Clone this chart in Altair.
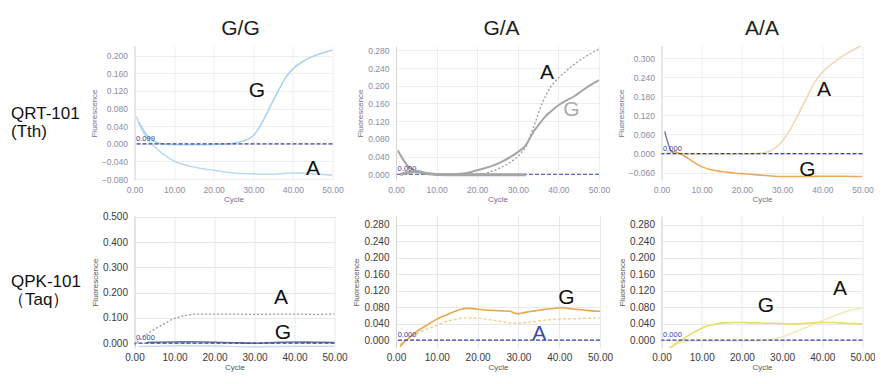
import altair as alt
import pandas as pd

FONT = "Liberation Sans"

COL_TITLES = ["G/G", "G/A", "A/A"]
ROW_LABELS = [("QRT-101", "(Tth)"), ("QPK-101", "（Taq）")]
X_TICKS = [0, 10, 20, 30, 40, 50]
THRESH = [0.0]

# ---- Panel 1: QRT-101 (Tth), G/G ----
P1_G_CYCLE = [1, 2, 3, 4, 5, 6, 8, 10, 12, 15, 18, 21, 24, 26, 28, 29, 30, 31, 32, 33, 34, 35, 36, 37, 38, 39, 40, 42, 44, 46, 48, 50]
P1_G_VALUE = [0.05, 0.035, 0.022, 0.012, 0.006, 0.002, -0.001, -0.002, -0.002, -0.002, -0.002, -0.001, 0.0, 0.003, 0.008, 0.012, 0.019, 0.03, 0.045, 0.062, 0.08, 0.097, 0.115, 0.132, 0.148, 0.16, 0.17, 0.184, 0.194, 0.202, 0.208, 0.213]
P1_A_CYCLE = [0.5, 1, 2, 3, 4, 5, 6, 8, 10, 12, 14, 17, 20, 25, 30, 34, 38, 40, 44, 47, 50]
P1_A_VALUE = [0.062, 0.05, 0.03, 0.015, 0.003, -0.006, -0.014, -0.028, -0.039, -0.046, -0.051, -0.056, -0.06, -0.066, -0.068, -0.069, -0.067, -0.066, -0.067, -0.069, -0.071]
P1_Y_DOMAIN = [-0.082, 0.222]
P1_Y_TICKS = [-0.08, -0.04, 0.0, 0.04, 0.08, 0.12, 0.16, 0.2]

# ---- Panel 2: QRT-101 (Tth), G/A ----
P2_G_CYCLE = [0.5, 1, 2, 3, 4, 5, 6, 8, 10, 12, 14, 16, 18, 20, 22, 24, 26, 28, 30, 32, 33, 34, 35, 36, 37, 38, 40, 42, 44, 46, 48, 50]
P2_G_VALUE = [0.052, 0.045, 0.03, 0.018, 0.011, 0.007, 0.004, 0.001, 0.0, 0.0, 0.0, 0.001, 0.004, 0.009, 0.014, 0.02, 0.028, 0.038, 0.05, 0.066, 0.082, 0.098, 0.11, 0.122, 0.133, 0.141, 0.156, 0.167, 0.177, 0.19, 0.202, 0.213]
P2_A_CYCLE = [0.5, 1, 2, 3, 4, 5, 6, 8, 10, 14, 18, 20, 22, 24, 26, 28, 30, 31, 32, 33, 34, 35, 36, 37, 38, 39, 40, 42, 44, 46, 48, 50]
P2_A_VALUE = [0.055, 0.045, 0.03, 0.018, 0.011, 0.007, 0.004, 0.001, 0.0, 0.0, 0.0, 0.0, 0.002, 0.008, 0.016, 0.026, 0.04, 0.05, 0.062, 0.085, 0.11, 0.135, 0.16, 0.18, 0.196, 0.208, 0.218, 0.234, 0.249, 0.262, 0.273, 0.283]
P2_BASE_CYCLE = [1, 3, 5, 8, 12, 16, 20, 24, 28, 32]
P2_BASE_VALUE = [-0.001, 0.004, 0.006, 0.001, -0.001, -0.001, -0.001, -0.001, -0.001, -0.001]
P2_Y_DOMAIN = [-0.013, 0.290]
P2_Y_TICKS = [0.0, 0.04, 0.08, 0.12, 0.16, 0.2, 0.24, 0.28]

# ---- Panel 3: QRT-101 (Tth), A/A ----
P3_A_CYCLE = [1, 3, 5, 8, 10, 15, 20, 24, 26, 27, 28, 29, 30, 31, 32, 33, 34, 35, 36, 37, 38, 39, 40, 42, 44, 46, 48, 50]
P3_A_VALUE = [0.005, 0.003, 0.0, -0.002, -0.002, -0.002, -0.002, 0.0, 0.004, 0.008, 0.015, 0.025, 0.038, 0.055, 0.075, 0.098, 0.122, 0.148, 0.172, 0.198, 0.222, 0.24, 0.255, 0.278, 0.297, 0.314, 0.328, 0.34]
P3_G_CYCLE = [3, 4, 5, 6, 7, 8, 10, 12, 14, 16, 18, 20, 22, 24, 26, 28, 30, 35, 40, 45, 50]
P3_G_VALUE = [0.008, 0.003, -0.003, -0.01, -0.018, -0.027, -0.041, -0.05, -0.055, -0.058, -0.061, -0.063, -0.065, -0.067, -0.069, -0.071, -0.072, -0.072, -0.071, -0.071, -0.072]
P3_P_CYCLE = [0.8, 1.2, 1.7, 2.2, 3.0]
P3_P_VALUE = [0.07, 0.05, 0.03, 0.012, 0.004]
P3_Y_DOMAIN = [-0.083, 0.338]
P3_Y_TICKS = [-0.06, 0.0, 0.06, 0.12, 0.18, 0.24, 0.3]

# ---- Panel 4: QPK-101 (Taq), G/G ----
P4_A_CYCLE = [0, 1, 2, 3, 4, 5, 6, 7, 8, 9, 10, 11, 12, 13, 14, 15, 20, 25, 30, 35, 40, 45, 50]
P4_A_VALUE = [-0.01, 0.01, 0.022, 0.034, 0.045, 0.055, 0.064, 0.073, 0.082, 0.091, 0.098, 0.103, 0.107, 0.11, 0.113, 0.115, 0.115, 0.115, 0.114, 0.115, 0.115, 0.114, 0.116]
P4_G_CYCLE = [3, 5, 10, 15, 20, 25, 30, 35, 40, 45, 50]
P4_G_VALUE = [0.003, 0.004, 0.005, 0.006, 0.004, 0.002, 0.0, 0.003, 0.005, 0.004, 0.003]
P4_L_CYCLE = [1, 5, 10, 20, 30, 40, 50]
P4_L_VALUE = [-0.013, -0.012, -0.01, -0.011, -0.014, -0.012, -0.012]
P4_Y_DOMAIN = [-0.019, 0.503]
P4_Y_TICKS = [0.0, 0.1, 0.2, 0.3, 0.4, 0.5]

# ---- Panel 5: QPK-101 (Taq), G/A ----
P5_G_CYCLE = [1, 2, 3, 4, 5, 6, 8, 10, 12, 14, 15, 16, 17, 18, 20, 22, 24, 26, 28, 29, 30, 31, 32, 34, 36, 38, 40, 41, 42, 44, 46, 48, 50]
P5_G_VALUE = [-0.016, -0.004, 0.004, 0.012, 0.02, 0.027, 0.039, 0.051, 0.06, 0.068, 0.072, 0.075, 0.077, 0.077, 0.075, 0.073, 0.072, 0.071, 0.07, 0.066, 0.064, 0.066, 0.068, 0.071, 0.074, 0.076, 0.078, 0.079, 0.077, 0.075, 0.073, 0.071, 0.07]
P5_L_CYCLE = [1, 2, 3, 4, 5, 6, 8, 10, 12, 14, 16, 18, 20, 22, 24, 26, 28, 30, 32, 34, 36, 38, 40, 42, 44, 46, 48, 50]
P5_L_VALUE = [-0.012, -0.002, 0.004, 0.01, 0.015, 0.02, 0.028, 0.036, 0.044, 0.049, 0.053, 0.054, 0.053, 0.051, 0.048, 0.045, 0.042, 0.041, 0.043, 0.045, 0.048, 0.05, 0.051, 0.052, 0.052, 0.053, 0.053, 0.054]
P5_Y_DOMAIN = [-0.019, 0.301]
P5_Y_TICKS = [0.0, 0.04, 0.08, 0.12, 0.16, 0.2, 0.24, 0.28]

# ---- Panel 6: QPK-101 (Taq), A/A ----
P6_G_CYCLE = [2, 3, 4, 5, 6, 7, 8, 9, 10, 11, 12, 13, 14, 16, 18, 20, 22, 24, 26, 28, 30, 32, 34, 36, 38, 40, 42, 44, 46, 48, 50]
P6_G_VALUE = [-0.019, -0.012, -0.005, 0.0, 0.007, 0.013, 0.019, 0.024, 0.029, 0.033, 0.036, 0.038, 0.04, 0.042, 0.043, 0.043, 0.042, 0.042, 0.041, 0.041, 0.04, 0.039, 0.04, 0.041, 0.042, 0.043, 0.043, 0.042, 0.041, 0.04, 0.039]
P6_A_CYCLE = [1, 2, 3, 4, 5, 6, 7, 8, 10, 15, 20, 22, 24, 26, 28, 30, 32, 34, 36, 38, 40, 42, 44, 46, 48, 50]
P6_A_VALUE = [-0.027, -0.02, -0.014, -0.009, -0.005, -0.003, -0.002, -0.002, -0.002, -0.002, -0.002, -0.002, -0.001, 0.0, 0.003, 0.008, 0.015, 0.023, 0.031, 0.039, 0.047, 0.055, 0.063, 0.07, 0.075, 0.078]
P6_Y_DOMAIN = [-0.019, 0.301]
P6_Y_TICKS = [0.0, 0.04, 0.08, 0.12, 0.16, 0.2, 0.24, 0.28]

# ---- big genotype letters (cycle, value, letter) ----
P1_LETTERS = {"cycle": [30.9, 45.1], "value": [0.12, -0.056], "letter": ["G", "A"]}
P2_LETTERS = {"cycle": [37.2, 43.2], "value": [0.228, 0.146], "letter": ["A", "G"]}
P3_LETTERS = {"cycle": [40.4, 36.3], "value": [0.2, -0.051], "letter": ["A", "G"]}
P4_LETTERS = {"cycle": [36.6, 37.1], "value": [0.179, 0.042], "letter": ["A", "G"]}
P5_LETTERS = {"cycle": [41.8, 35.1], "value": [0.103, 0.016], "letter": ["G", "A"]}
P6_LETTERS = {"cycle": [26.0, 44.4], "value": [0.082, 0.124], "letter": ["G", "A"]}
THRESH_LABELS = ["0.099", "0.000", "0.000", "0.000", "0.000", "0.000"]

THR_COLOR = "#3343a3"
H_TOP = 134
H_BOT = 132


def encodings(ydomain, yticks, row):
    if row == 0:
        lab_c, tit_c, lab_s, grid_c, lpad, tpad = "#8c8ca6", "#6e6e94", 8.5, "#eeeeee", 5, 2
    else:
        lab_c, tit_c, lab_s, grid_c, lpad, tpad = "#3a3a3a", "#555555", 10, "#e8e8e8", 4, 1
    x = alt.X(
        "cycle:Q",
        scale=alt.Scale(domain=[0, 50], nice=False, zero=False),
        axis=alt.Axis(values=X_TICKS, format=".2f", title="Cycle", grid=True,
                      gridColor=grid_c, domain=False, ticks=False,
                      labelFontSize=lab_s, labelColor=lab_c, labelFont=FONT,
                      labelPadding=lpad, labelFlush=False, titleFontSize=8,
                      titleColor=tit_c, titleFont=FONT, titleFontWeight="normal",
                      titlePadding=tpad),
    )
    y = alt.Y(
        "value:Q",
        scale=alt.Scale(domain=ydomain, nice=False, zero=False),
        axis=alt.Axis(values=yticks, format=".3f", title="Fluorescence", grid=True,
                      gridColor=grid_c, domain=True, domainColor="#d6d6d6",
                      ticks=False, labelFontSize=lab_s, labelColor=lab_c,
                      labelFont=FONT, labelPadding=7, labelFlush=False,
                      titleFontSize=8, titleColor=tit_c, titleFont=FONT,
                      titleFontWeight="normal", titlePadding=3),
    )
    return x, y


def curve(cycles, values, x, y, color, width=1.5, dash=None):
    df = pd.DataFrame({"cycle": cycles, "value": values})
    kw = dict(color=color, strokeWidth=width, interpolate="monotone", clip=True)
    if dash:
        kw["strokeDash"] = dash
    return alt.Chart(df).mark_line(**kw).encode(x=x, y=y)


def threshold(x, y, label):
    rule = alt.Chart(pd.DataFrame({"value": THRESH})).mark_rule(
        color=THR_COLOR, strokeWidth=1.2, strokeDash=[4, 2]
    ).encode(y=y)
    txt = alt.Chart(pd.DataFrame({"cycle": [0.4], "value": THRESH, "t": [label]})).mark_text(
        align="left", baseline="bottom", dy=-1, fontSize=7.5, font=FONT, color=THR_COLOR
    ).encode(x=x, y=y, text="t:N")
    return [rule, txt]


def letters(d, x, y, colors):
    df = pd.DataFrame(d)
    df["c"] = colors
    return alt.Chart(df).mark_text(
        fontSize=21, font=FONT, align="center", baseline="middle"
    ).encode(x=x, y=y, text="letter:N", color=alt.Color("c:N", scale=None))


def col_title(text, width, dx):
    return alt.Chart(pd.DataFrame({"t": [text]})).mark_text(
        fontSize=21, font=FONT, color="#1e1e1e", align="center", baseline="alphabetic"
    ).encode(x=alt.value(width / 2 + dx), y=alt.value(-11), text="t:N")


def panel(layers, width, height, title=None, dx=0):
    if title is not None:
        layers = layers + [col_title(title, width, dx)]
    return alt.layer(*layers).properties(width=width, height=height)


def row_label(lines, y1, y2, x2, height):
    l1 = alt.Chart(pd.DataFrame({"t": [lines[0]]})).mark_text(
        align="left", baseline="alphabetic", fontSize=17, font=FONT, color="#111111"
    ).encode(x=alt.value(3), y=alt.value(y1), text="t:N")
    l2 = alt.Chart(pd.DataFrame({"t": [lines[1]]})).mark_text(
        align="left", baseline="alphabetic", fontSize=17, font=FONT, color="#111111"
    ).encode(x=alt.value(x2), y=alt.value(y2), text="t:N")
    return alt.layer(l1, l2).properties(width=64.5, height=height)


# Panel 1
x1, y1 = encodings(P1_Y_DOMAIN, P1_Y_TICKS, 0)
p1 = panel([
    curve(P1_A_CYCLE, P1_A_VALUE, x1, y1, "#bddbee", 1.6),
    curve(P1_G_CYCLE, P1_G_VALUE, x1, y1, "#add3ec", 1.6),
    *threshold(x1, y1, THRESH_LABELS[0]),
    letters(P1_LETTERS, x1, y1, ["#111111", "#111111"]),
], 198, H_TOP, COL_TITLES[0], 7)

# Panel 2
x2, y2 = encodings(P2_Y_DOMAIN, P2_Y_TICKS, 0)
p2 = panel([
    curve(P2_A_CYCLE, P2_A_VALUE, x2, y2, "#9c9c9c", 1.3, [2, 2]),
    curve(P2_G_CYCLE, P2_G_VALUE, x2, y2, "#a6a6a6", 2.0),
    *threshold(x2, y2, THRESH_LABELS[1]),
    curve(P2_BASE_CYCLE, P2_BASE_VALUE, x2, y2, "#a6a6a6", 3.0),
    letters(P2_LETTERS, x2, y2, ["#111111", "#ababab"]),
], 203, H_TOP, COL_TITLES[1], 4)

# Panel 3
x3, y3 = encodings(P3_Y_DOMAIN, P3_Y_TICKS, 0)
p3 = panel([
    curve(P3_A_CYCLE, P3_A_VALUE, x3, y3, "#f3d6b6", 1.6),
    curve(P3_G_CYCLE, P3_G_VALUE, x3, y3, "#eda85f", 1.6),
    curve(P3_P_CYCLE, P3_P_VALUE, x3, y3, "#7d6ea6", 1.4),
    *threshold(x3, y3, THRESH_LABELS[2]),
    letters(P3_LETTERS, x3, y3, ["#111111", "#111111"]),
], 201, H_TOP, COL_TITLES[2], 0)

# Panel 4
x4, y4 = encodings(P4_Y_DOMAIN, P4_Y_TICKS, 1)
p4 = panel([
    curve(P4_L_CYCLE, P4_L_VALUE, x4, y4, "#c6ddf2", 1.4),
    curve(P4_A_CYCLE, P4_A_VALUE, x4, y4, "#9a9a9a", 1.3, [2, 2]),
    curve(P4_G_CYCLE, P4_G_VALUE, x4, y4, "#6a7aa8", 1.6),
    *threshold(x4, y4, THRESH_LABELS[3]),
    letters(P4_LETTERS, x4, y4, ["#111111", "#111111"]),
], 200, H_BOT)

# Panel 5
x5, y5 = encodings(P5_Y_DOMAIN, P5_Y_TICKS, 1)
p5 = panel([
    curve(P5_L_CYCLE, P5_L_VALUE, x5, y5, "#f5cf90", 1.4, [3, 2]),
    curve(P5_G_CYCLE, P5_G_VALUE, x5, y5, "#e9a84a", 1.6),
    *threshold(x5, y5, THRESH_LABELS[4]),
    letters(P5_LETTERS, x5, y5, ["#111111", "#3d4d9d"]),
], 204, H_BOT)

# Panel 6
x6, y6 = encodings(P6_Y_DOMAIN, P6_Y_TICKS, 1)
p6 = panel([
    curve(P6_A_CYCLE, P6_A_VALUE, x6, y6, "#f4eab2", 1.5),
    curve(P6_G_CYCLE, P6_G_VALUE, x6, y6, "#eadc66", 1.6),
    *threshold(x6, y6, THRESH_LABELS[5]),
    letters(P6_LETTERS, x6, y6, ["#111111", "#111111"]),
], 201, H_BOT)

chart = alt.concat(
    row_label(ROW_LABELS[0], 73, 91, 3, H_TOP), p1, p2, p3,
    row_label(ROW_LABELS[1], 71, 89, 0, H_BOT), p4, p5, p6,
    columns=4, spacing={"row": 36, "column": 61.5}, bounds="flush",
    background="white",
    autosize=alt.AutoSizeParams(type="none"),
    padding={"left": 0, "top": 38, "right": 867, "bottom": 326},
).configure_view(strokeWidth=0)

chart.save("out.html", embed_options={"renderer": "svg", "actions": False})
